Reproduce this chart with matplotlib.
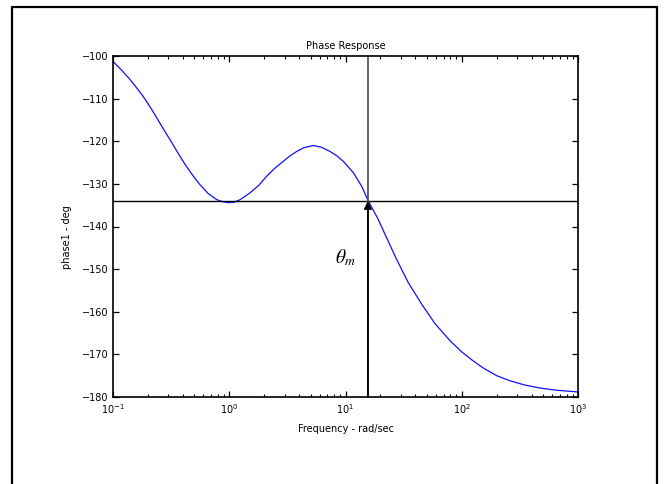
import numpy as np
import matplotlib
matplotlib.use("Agg")
import matplotlib.pyplot as plt
from matplotlib.lines import Line2D

# ----------------------------------------------------------
# Puntos leidos de la curva de fase (rad/s, grados)
# ----------------------------------------------------------
frecuencia = [0.100, 0.110, 0.123, 0.138, 0.155, 0.182, 0.208, 0.238,
              0.271, 0.320, 0.365, 0.416, 0.491, 0.560, 0.661, 0.780,
              0.880, 0.982, 1.10, 1.24, 1.51, 1.80, 2.10, 2.45, 2.92,
              3.30, 3.80, 4.40, 5.28, 6.20, 7.36, 8.40, 9.57, 11.7,
              13.8, 15.7, 19.1, 21.1, 24.0, 27.5, 34.7, 45.2, 58.9,
              79.3, 99.8, 125, 153, 200, 260, 350, 471, 650, 975, 1000]
fase = [-101.3, -102.4, -103.8, -105.3, -107.0, -109.5, -111.9, -114.5,
        -117.1, -120.3, -122.9, -125.4, -128.2, -130.2, -132.3, -133.7,
        -134.2, -134.4, -134.3, -133.7, -132.1, -130.3, -128.2, -126.4,
        -124.7, -123.5, -122.4, -121.5, -121.0, -121.4, -122.4, -123.4,
        -124.7, -127.4, -130.6, -134.0, -138.3, -140.9, -144.2, -147.7,
        -153.2, -158.2, -162.8, -166.8, -169.4, -171.5, -173.2, -175.0,
        -176.2, -177.2, -177.9, -178.4, -178.8, -178.9]

frecuencia_cruce = 15.6
fase_margen = -134.0

yticks = [-180, -170, -160, -150, -140, -130, -120, -110, -100]

# ----------------------------------------------------------
# Grafico
# ----------------------------------------------------------
fig = plt.figure(figsize=(6.64, 4.84), dpi=100)
ax = fig.add_axes([113 / 664, 1 - 397 / 484, 465 / 664, 341 / 484])

ax.semilogx(frecuencia, fase, color="#1010ff", lw=0.9)

ax.axhline(fase_margen, color="black", lw=1.0)
ax.axvline(frecuencia_cruce, color="#555555", lw=1.3)
ax.annotate("", xy=(frecuencia_cruce, fase_margen), xytext=(frecuencia_cruce, -180),
            arrowprops=dict(arrowstyle="-|>", color="black", lw=1.3,
                            mutation_scale=11, shrinkA=0, shrinkB=0))
ax.text(9.9, -147.4, r"$\theta_m$", fontsize=14, math_fontfamily="stix",
        ha="center", va="center")

ax.set_xlim(0.1, 1000)
ax.set_ylim(-180, -100)
ax.set_yticks(yticks)

ax.set_title("Phase Response", fontsize=7, pad=5)
ax.set_xlabel("Frequency - rad/sec", fontsize=7, labelpad=6)
ax.set_ylabel("phase1 - deg", fontsize=7)
ax.yaxis.set_label_coords(-0.088, 0.47)

ax.tick_params(which="both", direction="in", top=True, right=True, labelsize=7)
ax.tick_params(which="major", length=4, width=0.9)
ax.tick_params(which="minor", length=2.5, width=0.8)
for spine in ax.spines.values():
    spine.set_linewidth(1.2)

# Marco exterior (abierto abajo)
x0, x1 = 12 / 664, 657 / 664
y1 = 1 - 7 / 484
fig.add_artist(Line2D([x0, x0, x1, x1], [-0.05, y1, y1, -0.05],
                      transform=fig.transFigure, color="black", lw=1.6))

fig.savefig("out.png", dpi=100)
